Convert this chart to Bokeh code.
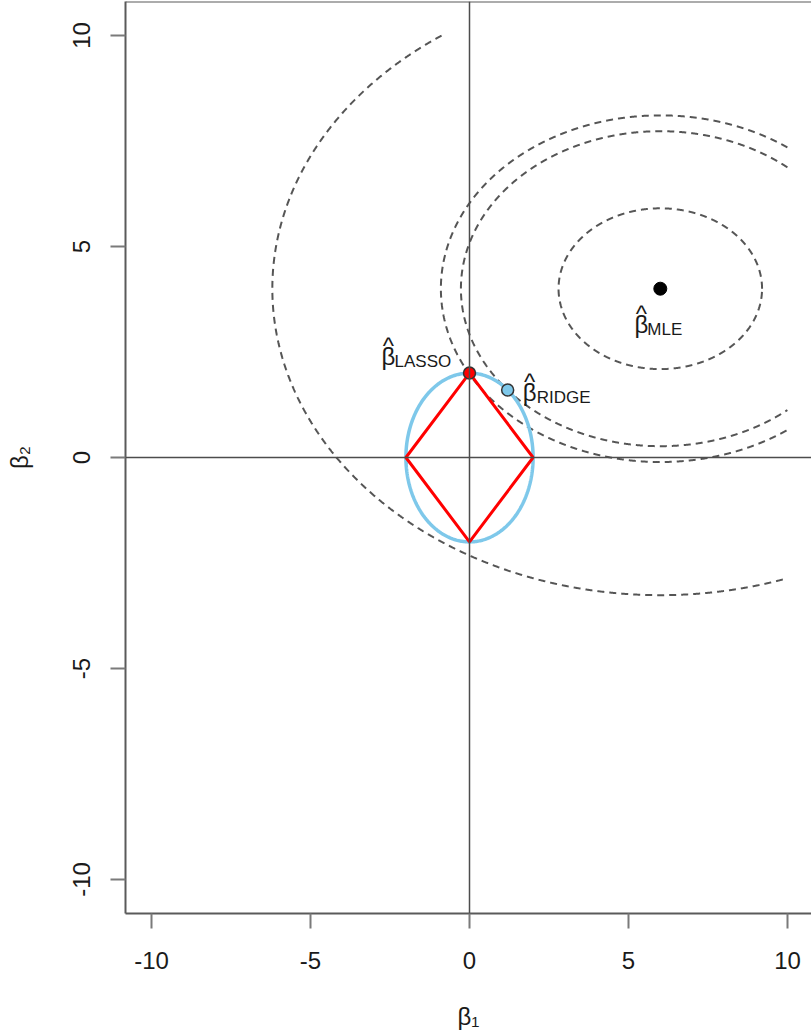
import numpy as np
from bokeh.plotting import figure
from bokeh.models import Span, FixedTicker, Range1d
from bokeh.embed import file_html
from bokeh.resources import INLINE
from bokeh.core.properties import value

# ---------------- data ----------------
tick_values = [-10, -5, 0, 5, 10]
tick_labels = ["-10", "-5", "0", "5", "10"]
mle_point = [6.0, 4.0]
lasso_point = [0.0, 2.0]
ridge_point = [1.2, 1.6]
diamond_b1 = [2.0, 0.0, -2.0, 0.0, 2.0]
diamond_b2 = [0.0, 2.0, 0.0, -2.0, 0.0]
ridge_radius = 2.0
contour_center = [6.0, 4.0]
contour_semi_b1 = [3.2, 6.27, 6.9, 12.2]
contour_aspect = 1.68         # semi-axis along b1 / semi-axis along b2
grid_limit = 10.0
label_names = ["LASSO", "RIDGE", "MLE"]
label_points = [lasso_point, ridge_point, mle_point]

# ---------------- layout / style ----------------
W, H = 811, 1034
BL, BR, BT, BB = 125, 0, 1, 121
PX_X, PX_Y = 31.8, 42.2
X0_PX, Y0_PX = 469, 457          # position of origin inside the figure
frame_w, frame_h = W - BL - BR, H - BT - BB
x_start = -(X0_PX - BL) / PX_X
x_end = x_start + frame_w / PX_X
y_end = (Y0_PX - BT) / PX_Y
y_start = y_end - frame_h / PX_Y

FONT = "Liberation Sans"
# pixel offsets of the label parts (beta, subscript, hat) relative to each point
beta_off = [(-81, -17), (22, 3), (-19, 36)]
sub_off = [(-75, -12), (29, 8), (-13, 41)]
hat_off = [(-81, -28), (22, -8), (-19, 25)]

p = figure(width=W, height=H, x_range=Range1d(x_start, x_end), y_range=Range1d(y_start, y_end),
           output_backend="svg", toolbar_location=None,
           min_border_left=BL, min_border_right=BR, min_border_top=BT, min_border_bottom=BB)
p.outline_line_color = None
p.grid.visible = False
p.background_fill_color = "white"
p.border_fill_color = "white"

for ax in (p.xaxis, p.yaxis):
    ax.ticker = FixedTicker(ticks=tick_values)
    ax.major_label_overrides = {v: s for v, s in zip(tick_values, tick_labels)}
    ax.minor_tick_line_color = None
    ax.major_tick_in = 0
    ax.major_tick_out = 15
    ax.major_tick_line_color = "#7a7a7a"
    ax.major_tick_line_width = 2
    ax.axis_line_color = "#5a5a5a"
    ax.axis_line_width = 2
    ax.major_label_text_font = FONT
    ax.major_label_text_font_size = "24px"
    ax.major_label_text_color = "#1a1a1a"
    ax.axis_label_text_font = FONT
    ax.axis_label_text_font_size = "24px"
    ax.axis_label_text_font_style = "normal"
    ax.axis_label_text_color = "#1a1a1a"

p.xaxis.axis_label = "β₁"
p.yaxis.axis_label = "β₂"
p.xaxis.major_label_standoff = 23
p.xaxis.axis_label_standoff = 31
p.yaxis.major_label_standoff = 21
p.yaxis.axis_label_standoff = 37
p.yaxis.major_label_orientation = "vertical"

# top box line
p.add_layout(Span(location=y_end, dimension="width", line_color="#5a5a5a", line_width=2))
# axes through the origin
p.add_layout(Span(location=0, dimension="width", line_color="#4d4d4d", line_width=1.5))
p.add_layout(Span(location=0, dimension="height", line_color="#4d4d4d", line_width=1.5))

# contours of the loss (clipped to the evaluation grid)
def ellipse_arcs(cx, cy, a, b, lim, n=6000):
    t = np.linspace(0, 2 * np.pi, n, endpoint=False)
    x = cx + a * np.cos(t)
    y = cy + b * np.sin(t)
    ok = (np.abs(x) <= lim) & (np.abs(y) <= lim)
    if ok.all():
        return [np.append(x, x[0])], [np.append(y, y[0])]
    i0 = int(np.argmin(ok))
    x, y, ok = np.roll(x, -i0), np.roll(y, -i0), np.roll(ok, -i0)
    xs, ys, cur = [], [], []
    for i in range(n):
        if ok[i]:
            cur.append(i)
        elif cur:
            xs.append(x[cur]); ys.append(y[cur]); cur = []
    if cur:
        xs.append(x[cur]); ys.append(y[cur])
    return xs, ys

cx_all, cy_all = [], []
for a in contour_semi_b1:
    xs, ys = ellipse_arcs(contour_center[0], contour_center[1], a, a / contour_aspect, grid_limit)
    cx_all += [list(v) for v in xs]
    cy_all += [list(v) for v in ys]
p.multi_line(cx_all, cy_all, line_color="#555555", line_width=2, line_dash="7 5")

# ridge constraint (circle) and lasso constraint (diamond)
t = np.linspace(0, 2 * np.pi, 400)
p.line(ridge_radius * np.cos(t), ridge_radius * np.sin(t), line_color="#7ec8ea", line_width=3.5)
p.line(diamond_b1, diamond_b2, line_color="#ff0000", line_width=3)

# estimates
p.scatter([mle_point[0]], [mle_point[1]], size=13, fill_color="black", line_color="black")
p.scatter([lasso_point[0]], [lasso_point[1]], size=12, fill_color="#ff0000", line_color="#333333", line_width=1.5)
p.scatter([ridge_point[0]], [ridge_point[1]], size=12, fill_color="#7ec8ea", line_color="#333333", line_width=1.5)

# labels
px = [pt[0] for pt in label_points]
py = [pt[1] for pt in label_points]
p.text(x=px, y=py, text=["β"] * 3, x_offset=[o[0] for o in beta_off], y_offset=[o[1] for o in beta_off],
       text_font=value(FONT), text_font_size="24px", text_align="center", text_baseline="alphabetic",
       text_color="#1a1a1a")
p.text(x=px, y=py, text=label_names, x_offset=[o[0] for o in sub_off], y_offset=[o[1] for o in sub_off],
       text_font=value(FONT), text_font_size="17px", text_align="left", text_baseline="alphabetic",
       text_color="#1a1a1a")
p.text(x=px, y=py, text=["^"] * 3, x_offset=[o[0] for o in hat_off], y_offset=[o[1] for o in hat_off],
       text_font=value(FONT), text_font_size="24px", text_align="center", text_baseline="alphabetic",
       text_color="#1a1a1a")

open("out.html", "w").write(file_html(p, INLINE))
